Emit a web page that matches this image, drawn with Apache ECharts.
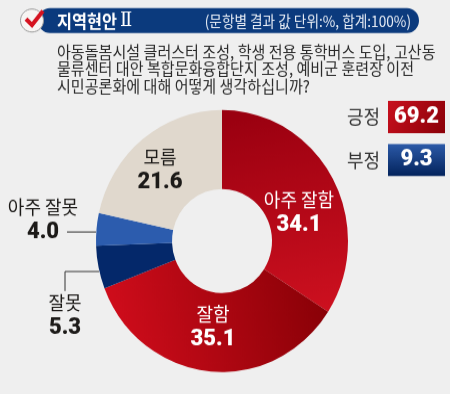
<!DOCTYPE html>
<html><head><meta charset="utf-8">
<style>html,body{margin:0;padding:0;background:#efefef;overflow:hidden}#c{width:450px;height:379px;transform:scaleY(1.04);transform-origin:0 0}</style>
<script src="https://cdn.jsdelivr.net/npm/echarts@6/dist/echarts.min.js"></script>
</head><body><div id="c"></div>
<script>
const categories=['아주 잘함','잘함','잘못','아주 잘못','모름'];
const values=[34.1,35.1,5.3,4.0,21.6];
const summaryLabels=['긍정','부정'];
const summaryValues=[69.2,9.3];
const titleText='지역현안';
const titleNumeral='Ⅱ';
const unitText='(문항별 결과 값 단위:%, 합계:100%)';
const questionLines=['아동돌봄시설 클러스터 조성, 학생 전용 통학버스 도입, 고산동','물류센터 대안 복합문화융합단지 조성, 예비군 훈련장 이전','시민공론화에 대해 어떻게 생각하십니까?'];

const FONT='"Noto Sans CJK KR","Noto Sans",sans-serif';
const NUM='Roboto,"Noto Sans CJK KR",sans-serif';
const S=1.04, Y=y=>y/S;
const grad=(x,y,x2,y2,a,b)=>new echarts.graphic.LinearGradient(x,y,x2,y2,[{offset:0,color:a},{offset:1,color:b}]);
const fills=[
  grad(0.3,0,0.6,1,'#9a0010','#cc101f'),
  grad(1,0.1,0,0.6,'#860006','#d20d1c'),
  '#04286a','#2c5cae','#e0d8cd'
];
const labelPos=[[299,213],[213,327],[65,316],[43,220],[160,170]];
const labelInk=['#fff','#fff','#1c1a18','#1c1a18','#1c1a18'];

const data=categories.map((n,i)=>({name:n,value:values[i],itemStyle:{color:fills[i]},
  label:{rich:{n:{color:labelInk[i],fontFamily:FONT,fontSize:18,lineHeight:24,align:'center'},
    v:{color:labelInk[i],fontFamily:NUM,fontSize:22,fontWeight:900,lineHeight:25,align:'center'}}}}));

const txt=(x,y,s,o,sx)=>({type:'text',x,y:Y(y),scaleX:sx||1,silent:true,style:Object.assign({text:s,fontFamily:FONT,fill:'#222',verticalAlign:'middle'},o)});
const line=(pts)=>({type:'polyline',silent:true,shape:{points:pts.map(p=>[p[0],Y(p[1])])},style:{stroke:'#333',lineWidth:1,fill:null}});

const graphics=[
  {type:'rect',shape:{x:38,y:Y(8),width:381,height:25/S,r:12},style:{fill:'#0b3a7d'}},
  {type:'ellipse',shape:{cx:32,cy:Y(20.5),rx:11.5,ry:11.5/S},style:{fill:'#f7f5f3',stroke:'#9a9a9a',lineWidth:1}},
  line([[26,19],[32,25],[43,11]]),
  txt(57,21,titleText,{fill:'#fff',fontSize:17,fontWeight:'bold'},0.96),
  txt(120,21,titleNumeral,{fill:'#fff',fontSize:18,fontFamily:'"Liberation Serif","DejaVu Serif",serif'}),
  txt(411,21,unitText,{fill:'#e6ecf5',fontSize:15,align:'right'},0.91),
  ...questionLines.map((s,i)=>txt(57,52+i*17,s,{fontSize:15.5,fill:'#2a2a2a'},0.972)),
  ...summaryLabels.map((s,i)=>txt(380,117+i*43,s,{fontSize:18,fill:'#333',align:'right'})),
  {type:'rect',shape:{x:388,y:Y(101),width:57,height:32/S},style:{fill:grad(0,0,1,1,'#c8101e','#8a0008')}},
  {type:'rect',shape:{x:388,y:Y(144),width:57,height:32/S},style:{fill:grad(0,0,0,1,'#2c5aa8','#03235c')}},
  ...summaryValues.map((v,i)=>txt(416.5,117+i*43,v.toFixed(1),{fontSize:22,fontWeight:900,fontFamily:NUM,fill:'#fff',align:'center'})),
  line([[67,232],[96,232]]),
  line([[65,291],[65,271.5],[99,271.5]])
];
graphics[2].style={stroke:'#d5121f',lineWidth:4,fill:null};

const chart=echarts.init(document.getElementById('c'),null,{renderer:'canvas'});
chart.setOption({
  backgroundColor:'#efefef',animation:false,
  series:[{type:'pie',center:[222,Y(241)],radius:[50,126],startAngle:90,clockwise:true,silent:true,
    itemStyle:{borderWidth:0},
    label:{show:true,position:'inside',formatter:p=>`{n|${p.name}}\n{v|${p.value.toFixed(1)}}`},
    labelLine:{show:false},
    labelLayout:p=>({x:labelPos[p.dataIndex][0],y:Y(labelPos[p.dataIndex][1]),align:'center',verticalAlign:'middle'}),
    data}],
  graphic:{elements:graphics}
});
</script></body></html>
